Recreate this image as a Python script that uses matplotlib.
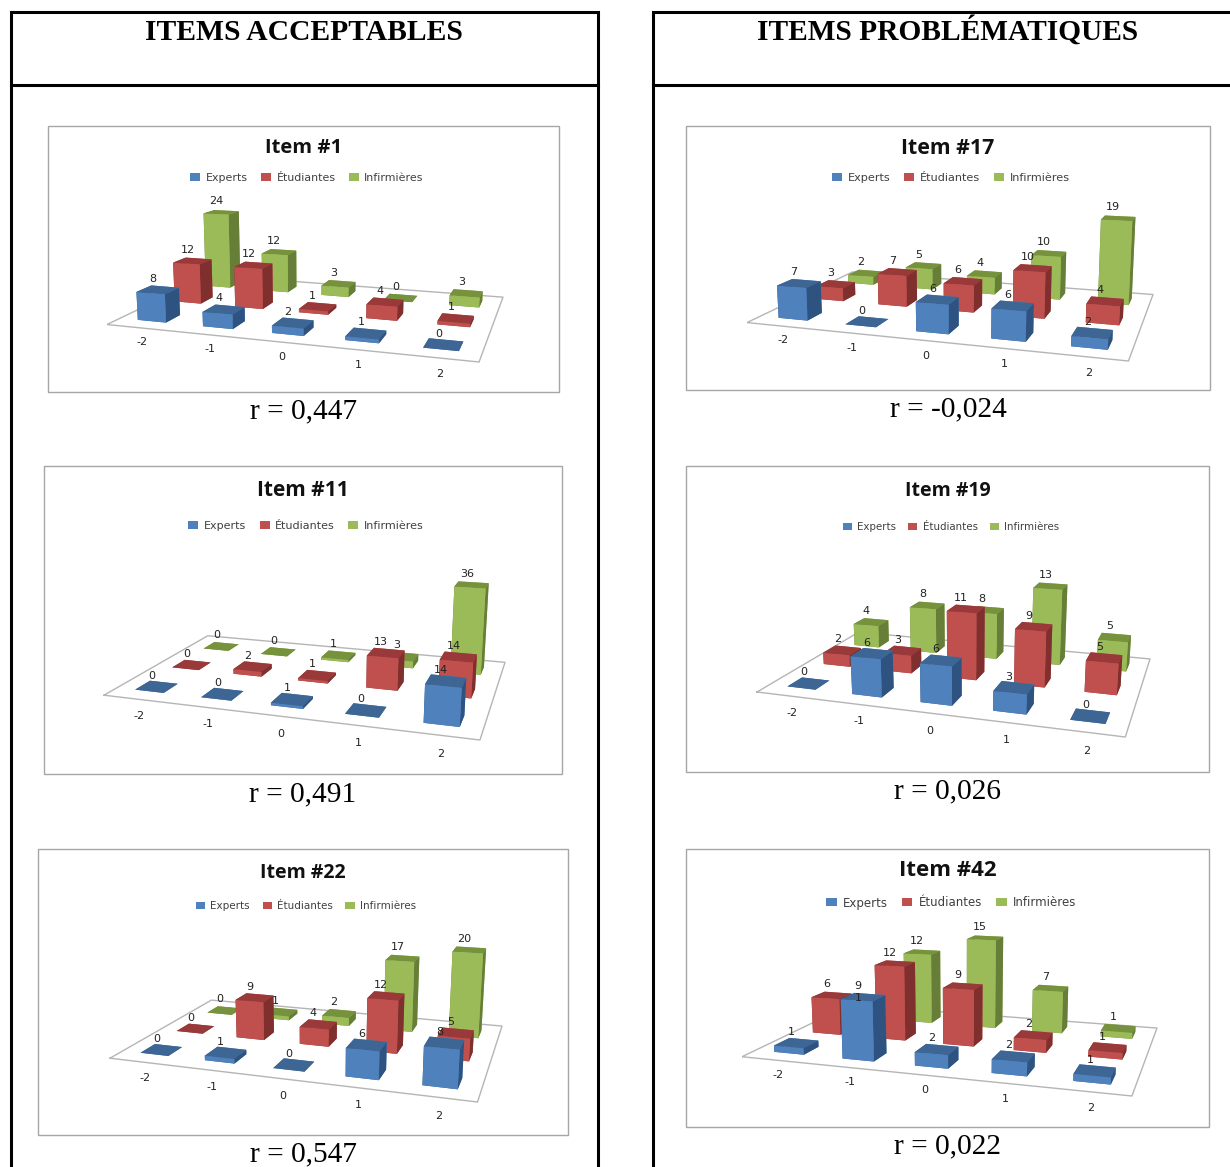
import matplotlib
matplotlib.use("Agg")
import matplotlib.pyplot as plt
import numpy as np
from matplotlib.patches import Patch, Rectangle
from mpl_toolkits.mplot3d import proj3d

W, H = 1230, 1167

categories = ["-2", "-1", "0", "1", "2"]
series_names = ["Experts", "Étudiantes", "Infirmières"]

item1_experts = [8, 4, 2, 1, 0]
item1_etudiantes = [12, 12, 1, 4, 1]
item1_infirmieres = [24, 12, 3, 0, 3]

item11_experts = [0, 0, 1, 0, 14]
item11_etudiantes = [0, 2, 1, 13, 14]
item11_infirmieres = [0, 0, 1, 3, 36]

item22_experts = [0, 1, 0, 6, 8]
item22_etudiantes = [0, 9, 4, 12, 5]
item22_infirmieres = [0, 1, 2, 17, 20]

item17_experts = [7, 0, 6, 6, 2]
item17_etudiantes = [3, 7, 6, 10, 4]
item17_infirmieres = [2, 5, 4, 10, 19]

item19_experts = [0, 6, 6, 3, 0]
item19_etudiantes = [2, 3, 11, 9, 5]
item19_infirmieres = [4, 8, 8, 13, 5]

item42_experts = [1, 9, 2, 2, 1]
item42_etudiantes = [6, 12, 9, 2, 1]
item42_infirmieres = [1, 12, 15, 7, 1]

# face colours per series: front, top, side
BLUE = ("#4F81BD", "#3D6695", "#2F5380")
RED = ("#C0504D", "#99393A", "#7F302E")
GREEN = ("#9BBB59", "#76923C", "#667E38")
palette = [BLUE, RED, GREEN]

# box = chart frame (left, top, right, bottom), floor = left, right, bottom of the floor
charts = [
    dict(title="Item #1", r="r = 0,447", vals=(item1_experts, item1_etudiantes, item1_infirmieres),
         box=(48, 126, 559, 392), floor=(107, 503, 362), zmax=27, elev=12, title_y=148, title_size=14.5,
         leg_y=178, leg_x=307, leg_size=7.9, r_y=411),
    dict(title="Item #11", r="r = 0,491", vals=(item11_experts, item11_etudiantes, item11_infirmieres),
         box=(44, 466, 562, 774), floor=(104, 505, 740), zmax=38, elev=15, title_y=491, title_size=15,
         leg_y=526, leg_x=306, leg_size=8, r_y=794),
    dict(title="Item #22", r="r = 0,547", vals=(item22_experts, item22_etudiantes, item22_infirmieres),
         box=(38, 849, 568, 1135), floor=(110, 502, 1102), zmax=21, elev=15, title_y=873, title_size=14,
         leg_y=906, leg_x=306, leg_size=7.5, r_y=1154),
    dict(title="Item #17", r="r = -0,024", vals=(item17_experts, item17_etudiantes, item17_infirmieres),
         box=(686, 126, 1210, 390), floor=(747, 1153, 361), zmax=21, elev=12, title_y=148, title_size=15.3,
         leg_y=178, leg_x=951, leg_size=8.1, r_y=409),
    dict(title="Item #19", r="r = 0,026", vals=(item19_experts, item19_etudiantes, item19_infirmieres),
         box=(686, 466, 1209, 772), floor=(757, 1150, 737), zmax=15, elev=15.5, title_y=491, title_size=14,
         leg_y=527, leg_x=951, leg_size=7.4, r_y=791),
    dict(title="Item #42", r="r = 0,022", vals=(item42_experts, item42_etudiantes, item42_infirmieres),
         box=(686, 849, 1209, 1127), floor=(742, 1157, 1096), zmax=15.5, elev=12, title_y=871, title_size=16,
         leg_y=903, leg_x=951, leg_size=8.5, r_y=1146),
]

fig = plt.figure(figsize=(W / 100, H / 100), dpi=100, facecolor="white")

# page layer in pixel coordinates: table rules, chart frames, captions
page = fig.add_axes([0, 0, 1, 1], zorder=0)
page.set_xlim(0, W)
page.set_ylim(H, 0)
page.axis("off")

for x0, x1 in [(11, 598), (653, W + 5)]:
    page.plot([x0, x0, x1, x1], [H + 5, 12, 12, H + 5], color="black", lw=2.2, solid_joinstyle="miter")
    page.plot([x0, x1], [85, 85], color="black", lw=2.2)

page.text(304, 40, "ITEMS ACCEPTABLES", family="Liberation Serif", weight="bold", size=21.3, ha="center", va="baseline")
page.text(948, 40, "ITEMS PROBLÉMATIQUES", family="Liberation Serif", weight="bold", size=21.2, ha="center", va="baseline")


def place_axes(ax, floor_corners, floor_box):
    # scale and shift the square 3D axes so the projected floor lands on floor_box
    left, right, bottom = floor_box
    side = 700.0
    cx, cy = (left + right) / 2, H - bottom

    def measure():
        ax.apply_aspect()
        px, py, _ = proj3d.proj_transform(*floor_corners, ax.get_proj())
        return ax.transData.transform(np.column_stack([px, py]))

    ax.set_position([(cx - side / 2) / W, (cy - side / 2) / H, side / W, side / H])
    pts = measure()
    side *= (right - left) / (pts[:, 0].max() - pts[:, 0].min())
    ax.set_position([(cx - side / 2) / W, (cy - side / 2) / H, side / W, side / H])
    pts = measure()
    dx = (left + right) / 2 - (pts[:, 0].min() + pts[:, 0].max()) / 2
    dy = (H - bottom) - pts[:, 1].min()
    ax.set_position([(cx - side / 2 + dx) / W, (cy - side / 2 + dy) / H, side / W, side / H])


def label_at(ax, x, y, z, text, dx=0, dy=0):
    # 3D point to 2D data position, then a plain annotation offset in pixels
    px, py, _ = proj3d.proj_transform(x, y, z, ax.get_proj())
    ax.annotate(text, (px, py), xytext=(dx, dy), textcoords="offset pixels", ha="center", va="center",
                size=8, color="#222222", zorder=100, annotation_clip=False)


def draw_chart(c):
    x0, y0, x1, y1 = c["box"]
    page.add_patch(Rectangle((x0, y0), x1 - x0, y1 - y0, fc="white", ec="#A6A6A6", lw=1))
    page.text((x0 + x1) / 2, c["title_y"], c["title"], family="Open Sans", weight="bold", size=c["title_size"],
              ha="center", va="center", color="#111111")
    page.text((x0 + x1) / 2, c["r_y"], c["r"], family="Liberation Serif", size=21.2, ha="center", va="center")

    handles = [Patch(fc=palette[i][0], label=series_names[i]) for i in range(3)]
    fig.legend(handles=handles, loc="center", bbox_to_anchor=(c["leg_x"] / W, 1 - c["leg_y"] / H), ncol=3,
               frameon=False, fontsize=c["leg_size"], handlelength=0.9, handleheight=0.65, handletextpad=0.5,
               columnspacing=1.2, labelcolor="#404040")

    ax = fig.add_axes([0, 0, 1, 1], projection="3d", zorder=2, computed_zorder=False)
    ax.set_axis_off()
    ax.patch.set_visible(False)
    ax.set_xlim(-0.5, 4.5)
    ax.set_ylim(-0.5, 2.5)
    ax.set_zlim(0, c["zmax"])
    ax.set_box_aspect((5, 3.2, 1.35))
    ax.set_proj_type("persp", focal_length=0.35)
    ax.view_init(elev=c["elev"], azim=-72)

    # floor outline
    fx = [-0.5, 4.5, 4.5, -0.5, -0.5]
    fy = [-0.5, -0.5, 2.5, 2.5, -0.5]
    ax.plot(fx, fy, [0] * 5, color="#B5B5B5", lw=1, zorder=1)

    bar_w = 0.44
    bar_d = 0.38
    z = 10
    for row in [2, 1, 0]:
        front, top, side = palette[row]
        # order of bar3d faces: bottom, top, -y, +y, -x, +x
        faces = [top, top, front, front, side, side]
        for i, v in enumerate(c["vals"][row]):
            ax.bar3d(i - bar_w / 2, row - bar_d / 2, 0, bar_w, bar_d, v, color=faces, shade=False,
                     zorder=z, linewidth=0)
            z += 1
            label_at(ax, i, row, v, str(v), dx=-5, dy=11)

    for i, lab in enumerate(categories):
        label_at(ax, i * 0.945 + 0.35, -1.0, 0, lab)

    corners = (np.array([-0.5, 4.5, 4.5, -0.5]), np.array([-0.5, -0.5, 2.5, 2.5]), np.zeros(4))
    place_axes(ax, corners, c["floor"])


for c in charts:
    draw_chart(c)

fig.savefig("out.png", dpi=100)
